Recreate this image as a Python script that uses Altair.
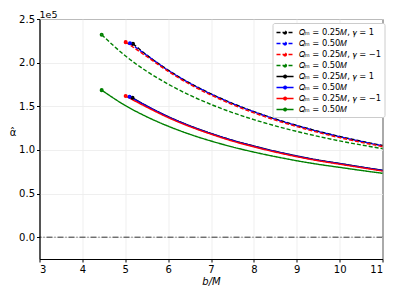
import altair as alt
import pandas as pd

# values (alpha-hat in units of 1e5)
b_black_d = [5.18, 5.5, 6.0, 6.5, 7.0, 7.5, 8.0, 8.5, 9.0, 9.5, 10.0, 10.5, 11.0]
a_black_d = [2.216, 2.088, 1.915, 1.768, 1.643, 1.534, 1.439, 1.355, 1.281, 1.214, 1.154, 1.100, 1.050]
b_blue_d = [5.11, 5.5, 6.0, 6.5, 7.0, 7.5, 8.0, 8.5, 9.0, 9.5, 10.0, 10.5, 11.0]
a_blue_d = [2.222, 2.085, 1.912, 1.765, 1.640, 1.531, 1.436, 1.352, 1.278, 1.211, 1.151, 1.097, 1.047]
b_red_d = [5.01, 5.5, 6.0, 6.5, 7.0, 7.5, 8.0, 8.5, 9.0, 9.5, 10.0, 10.5, 11.0]
a_red_d = [2.235, 2.070, 1.900, 1.753, 1.628, 1.519, 1.424, 1.341, 1.267, 1.200, 1.140, 1.087, 1.038]
b_green_d = [4.45, 5.0, 5.5, 6.0, 6.5, 7.0, 7.5, 8.0, 8.5, 9.0, 9.5, 10.0, 10.5, 11.0]
a_green_d = [2.320, 2.079, 1.901, 1.754, 1.628, 1.521, 1.428, 1.347, 1.275, 1.212, 1.155, 1.103, 1.057, 1.015]

b_black_s = [5.17, 5.5, 6.0, 6.5, 7.0, 7.5, 8.0, 8.5, 9.0, 9.5, 10.0, 10.5, 11.0]
a_black_s = [1.598, 1.505, 1.382, 1.278, 1.189, 1.111, 1.044, 0.984, 0.931, 0.884, 0.845, 0.805, 0.767]
b_blue_s = [5.10, 5.5, 6.0, 6.5, 7.0, 7.5, 8.0, 8.5, 9.0, 9.5, 10.0, 10.5, 11.0]
a_blue_s = [1.610, 1.502, 1.379, 1.275, 1.186, 1.108, 1.041, 0.981, 0.928, 0.881, 0.842, 0.802, 0.764]
b_red_s = [5.01, 5.5, 6.0, 6.5, 7.0, 7.5, 8.0, 8.5, 9.0, 9.5, 10.0, 10.5, 11.0]
a_red_s = [1.617, 1.490, 1.370, 1.268, 1.180, 1.101, 1.035, 0.975, 0.922, 0.876, 0.836, 0.797, 0.758]
b_green_s = [4.45, 5.0, 5.5, 6.0, 6.5, 7.0, 7.5, 8.0, 8.5, 9.0, 9.5, 10.0, 10.5, 11.0]
a_green_s = [1.685, 1.509, 1.380, 1.272, 1.180, 1.102, 1.034, 0.975, 0.923, 0.876, 0.835, 0.800, 0.765, 0.732]

labels = [
    "𝑄ₘ = 0.25𝑀, 𝛾 = 1",
    "𝑄ₘ = 0.50𝑀",
    "𝑄ₘ = 0.25𝑀, 𝛾 = −1",
    "𝑄ₘ = 0.50𝑀",
]
colors = ["#000000", "#0000ff", "#ff0000", "#008000"]

series_d = [(b_black_d, a_black_d), (b_blue_d, a_blue_d), (b_red_d, a_red_d), (b_green_d, a_green_d)]
series_s = [(b_black_s, a_black_s), (b_blue_s, a_blue_s), (b_red_s, a_red_s), (b_green_s, a_green_s)]

rows = []
names = []
dashes = []
cols = []
order = 0
for style, sers, dash in [("d", series_d, [4, 2]), ("s", series_s, [1, 0])]:
    for i, (bs, as_) in enumerate(sers):
        # zero-width spaces keep duplicated legend texts distinct
        name = labels[i] + ("\u200b" * (i + 1 + (0 if style == "d" else 4)))
        names.append(name)
        dashes.append(dash)
        cols.append(colors[i])
        for k, (b, a) in enumerate(zip(bs, as_)):
            rows.append({"b": b, "a": a, "series": name, "first": k == 0, "ord": order})
        order += 1
df = pd.DataFrame(rows)

x = alt.X("b:Q", scale=alt.Scale(domain=[3, 11], nice=False, zero=False),
          axis=alt.Axis(values=[3, 4, 5, 6, 7, 8, 9, 10, 11], title="b/M", titleFontStyle="italic",
                        titleFontWeight="normal", titleFontSize=10, titlePadding=2))
y = alt.Y("a:Q", scale=alt.Scale(domain=[-0.25, 2.5], nice=False, zero=False),
          axis=alt.Axis(values=[0, 0.5, 1.0, 1.5, 2.0, 2.5], format=".1f", title="α̂",
                        titleAngle=0, titleFontWeight="normal", titleFontSize=10,
                        titleX=-27, titleY=113, titleBaseline="middle", titleAlign="center"))

legend_symbol = ("M-1,0L2.1,0"
                 "M0.8,0A0.25,0.25 0 1,1 0.3,0A0.25,0.25 0 1,1 0.8,0Z")

legend = alt.Legend(title=None, orient="none", legendX=233, legendY=4,
                    symbolType=legend_symbol, symbolSize=121, symbolStrokeWidth=1.4,
                    labelFontSize=8.3, rowPadding=0, padding=3, labelOffset=10,
                    fillColor="white", strokeColor="#cccccc", cornerRadius=2,
                    labelLimit=200)
color = alt.Color("series:N", scale=alt.Scale(domain=names, range=cols), legend=legend)
dash = alt.StrokeDash("series:N", scale=alt.Scale(domain=names, range=dashes), legend=None)

lines = alt.Chart(df).mark_line(strokeWidth=1.4, interpolate="monotone").encode(
    x=x, y=y, color=color, strokeDash=dash, order="ord:Q", detail="series:N"
)
points = alt.Chart(df).transform_filter("datum.first").mark_point(
    filled=False, size=5, strokeWidth=1.8, opacity=1).encode(
    x="b:Q", y="a:Q", color=color
)
zero = alt.Chart(pd.DataFrame({"z": [0.0]})).mark_rule(
    color="black", strokeWidth=0.8, strokeDash=[6, 2, 1, 2]).encode(y="z:Q")

chart = alt.layer(zero, lines, points).properties(
    width=343, height=240,
    title=alt.TitleParams("1e5", anchor="start", frame="group", fontSize=9.5, fontWeight="normal",
                          offset=2, dy=7, color="black"),
    autosize=alt.AutoSizeParams(type="none"),
    padding={"left": 31.5, "top": 11, "right": 8, "bottom": 30},
).configure(font="DejaVu Sans").configure_view(stroke="black", strokeWidth=1).configure_axis(
    grid=True, gridColor="#ebebeb", gridWidth=0.8, domainColor="black", tickColor="black",
    tickSize=3, labelFontSize=10, labelColor="black", titleColor="black", labelPadding=2,
    domain=True
)

chart.save("out.html", embed_options={"renderer": "svg", "actions": False})
